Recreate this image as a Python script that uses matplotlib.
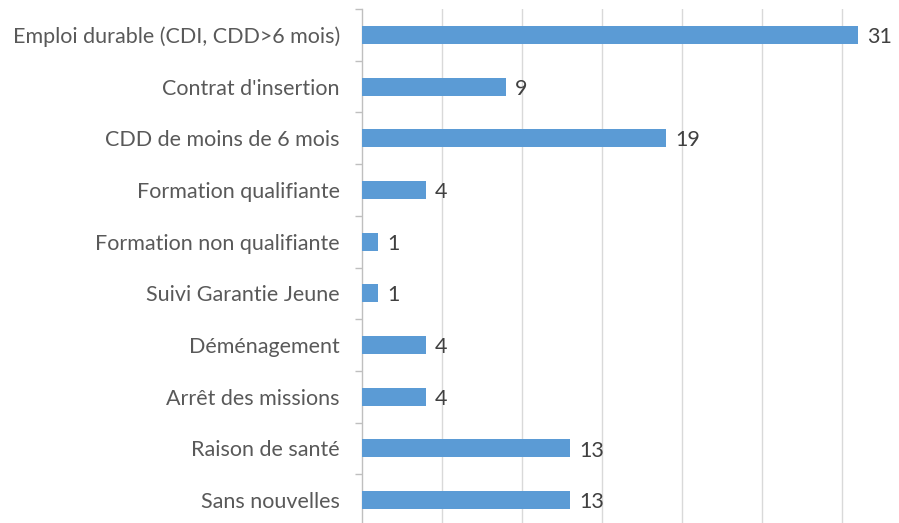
import matplotlib
matplotlib.use("Agg")
import matplotlib.pyplot as plt
import numpy as np

categories = ["Emploi durable (CDI, CDD>6 mois)", "Contrat d'insertion",
              "CDD de moins de 6 mois", "Formation qualifiante",
              "Formation non qualifiante", "Suivi Garantie Jeune",
              "Déménagement", "Arrêt des missions", "Raison de santé",
              "Sans nouvelles"]
values = [31, 9, 19, 4, 1, 1, 4, 4, 13, 13]

plt.rcParams['font.family'] = ['Lato', 'DejaVu Sans']

W, H = 899, 523
fig = plt.figure(figsize=(W/100, H/100), dpi=100)
left = 362 / W
top_px = 9
ax_h_px = 517
ax = fig.add_axes([left, 1 - (top_px + ax_h_px) / H, 1 - left, ax_h_px / H])

n = len(categories)
y = np.arange(n)
ax.barh(y, values, height=0.35, color="#5B9BD5", zorder=3)
ax.set_ylim(n - 0.5, -0.5)
ax.set_xlim(0, (W - 362) / 16)
ax.set_yticks(y)
ax.set_yticklabels(categories, fontsize=15.5, color="#595959")
ax.tick_params(axis='y', which='major', length=0, pad=16)
ax.set_yticks(np.arange(-0.5, n, 1), minor=True)
ax.tick_params(axis='y', which='minor', length=5, color="#BFBFBF", width=1)
ax.set_xticks([5, 10, 15, 20, 25, 30])
ax.tick_params(axis='x', length=0, labelbottom=False)
ax.grid(axis='x', color="#D9D9D9", linewidth=1, zorder=0)
for s in ['top', 'right', 'bottom']:
    ax.spines[s].set_visible(False)
ax.spines['left'].set_color("#BFBFBF")
ax.spines['left'].set_linewidth(1)

for yi, v in zip(y, values):
    ax.annotate(str(v), (v, yi), xytext=(6.5, -1.5), textcoords='offset points',
                va='center', ha='left', fontsize=15.5, color="#404040")

fig.savefig("out.png", dpi=100)
